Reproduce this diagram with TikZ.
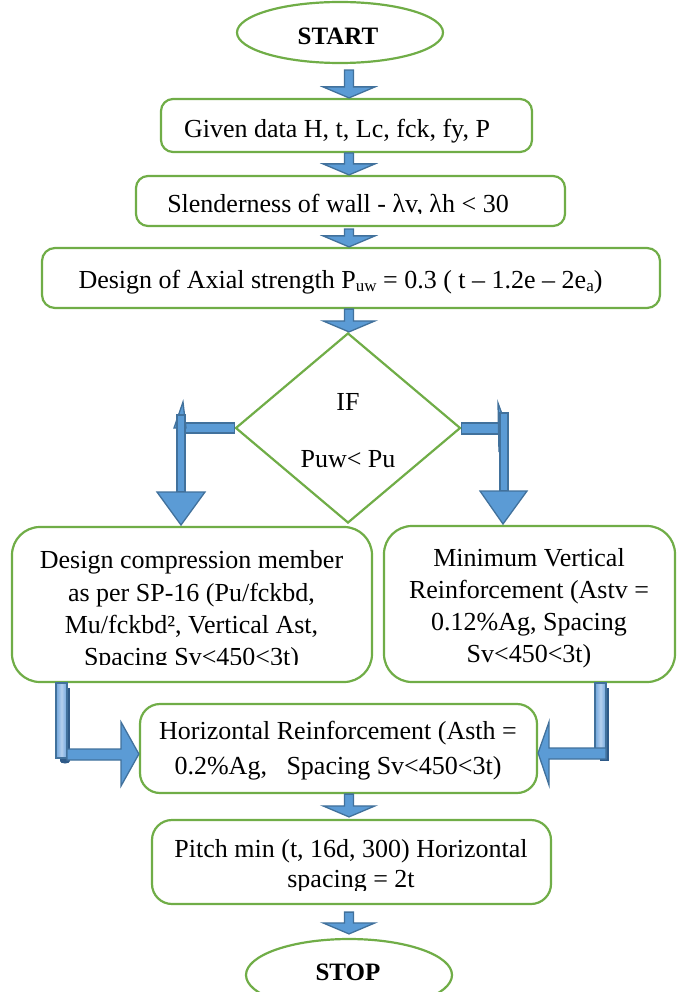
\documentclass[tikz,border=0pt]{standalone}
\usepackage{fontspec}
\setmainfont{Liberation Serif}
\usetikzlibrary{shapes.geometric,calc}

\definecolor{boxgreen}{HTML}{70AD47}
\definecolor{arrowfill}{HTML}{5B9BD5}
\definecolor{arrowedge}{HTML}{41719C}
\definecolor{barlight}{HTML}{B4D0EE}
\definecolor{barmid}{HTML}{6FA5DC}
\definecolor{bardark}{HTML}{2E5A88}

\tikzset{
  flowbox/.style={draw=boxgreen, line width=2.2pt, rounded corners=#1, fill=white,
    inner sep=0pt, rectangle},
  terminal/.style={draw=boxgreen, line width=2.2pt, ellipse, fill=white, inner sep=0pt},
  decision/.style={draw=boxgreen, line width=2.2pt, diamond, fill=white, inner sep=0pt},
  blockarrow/.style={draw=arrowedge, fill=arrowfill, line width=1.3pt, line join=miter},
  txt/.style={font=\fontsize{26}{30}\selectfont, anchor=base, inner sep=0pt},
  boldtxt/.style={font=\fontsize{25}{30}\selectfont\bfseries, anchor=base, inner sep=0pt},
}

% lowered small subscript letters
\newcommand\lowsub[1]{\raisebox{-3pt}{\fontsize{17}{17}\selectfont #1}}

% downward block arrow: #1 top of the shaft, #2 tip
\newcommand\blockdown[2]{%
  \path[blockarrow] let \p1=#1, \p2=#2 in
    (\x1-4.5pt,\y1) -- (\x1+4.5pt,\y1) -- (\x1+4.5pt,\y2+11pt) -- (\x1+26pt,\y2+11pt)
    -- (\x1,\y2) -- (\x1-26pt,\y2+11pt) -- (\x1-4.5pt,\y2+11pt) -- cycle;}

\begin{document}
\begin{tikzpicture}[x=1pt,y=-1pt]
\useasboundingbox (0,0) rectangle (680,992);
\clip (0,0) rectangle (680,992);

% ---- shapes ----
\node[terminal, minimum width=206pt, minimum height=61pt] (start) at (340,32.5) {};
\node[flowbox=12pt, minimum width=371pt, minimum height=53pt] (given) at (346.5,125.5) {};
\node[flowbox=12pt, minimum width=429pt, minimum height=50pt] (slender) at (350.5,201) {};
\node[flowbox=13pt, minimum width=618pt, minimum height=60pt] (axial) at (351,278) {};
\node[decision, minimum width=225pt, minimum height=190pt] (dia) at (348,428) {};
\node[flowbox=28pt, minimum width=360pt, minimum height=155pt] (comp) at (192,604.5) {};
\node[flowbox=28pt, minimum width=291pt, minimum height=156pt] (minv) at (529.5,604) {};
\node[flowbox=20pt, minimum width=397pt, minimum height=89pt] (horiz) at (338.5,748.5) {};
\node[flowbox=20pt, minimum width=399pt, minimum height=84pt] (pitch) at (351.5,862) {};
\node[terminal, minimum width=206pt, minimum height=72pt] (stop) at (349,975) {};

% ---- texts ----
\node[boldtxt] (starttxt) at (338,45) {START};
\node[txt] (giventxt) at (337,138) {Given data H, t, Lc, fck, fy, P};
\begin{scope}
  \clip (0,0) rectangle (680,214);
  \node[txt] (slendertxt) at (338,213) {Slenderness of wall - λv, λh < 30};
\end{scope}
\node[txt] (axialtxt) at (340.5,288) {Design of Axial strength P\lowsub{uw} = 0.3 ( t – 1.2e – 2e\lowsub{a})};
\node[txt] (iftxt) at (348,410) {IF};
\node[txt] (condtxt) at (348,467) {Puw< Pu};

\node[txt] (comp1) at (191.5,568) {Design compression member};
\node[txt] (comp2) at (191.5,601) {as per SP-16 (Pu/fckbd,};
\node[txt] (comp3) at (191.5,633) {Mu/fckbd², Vertical Ast,};
\begin{scope}
  \clip (0,0) rectangle (680,664);
  \node[txt] (comp4) at (191.5,665) {Spacing Sv<450<3t)};
\end{scope}

\node[txt] (minv1) at (529,566) {Minimum Vertical};
\node[txt] (minv2) at (529,598) {Reinforcement (Astv =};
\node[txt] (minv3) at (529,630) {0.12\%Ag, Spacing};
\begin{scope}
  \clip (0,0) rectangle (680,667);
  \node[txt] (minv4) at (529,662) {Sv<450<3t)};
\end{scope}

\node[txt] (horiz1) at (338,739) {Horizontal Reinforcement (Asth =};
\node[txt] (horiz2) at (338,774) {0.2\%Ag,\ \ \ Spacing Sv<450<3t)};

\node[txt] (pitch1) at (351,857) {Pitch min (t, 16d, 300) Horizontal};
\begin{scope}
  \clip (0,0) rectangle (680,890);
  \node[txt] (pitch2) at (351,887) {spacing = 2t};
\end{scope}

\node[boldtxt] (stoptxt) at (348,980) {STOP};

% ---- straight block arrows down the main column ----
\coordinate (col) at (349,0);
\blockdown{($(col |- start.south)+(0,6)$)}{(col |- given.north)}
\blockdown{(col |- given.south)}{(col |- slender.north)}
\blockdown{($(col |- slender.south)+(0,2)$)}{(col |- axial.north)}
\blockdown{(col |- axial.south)}{(col |- dia.north)}
\blockdown{(col |- horiz.south)}{($(col |- pitch.north)+(0,-2)$)}
\blockdown{($(col |- pitch.south)+(0,7)$)}{($(col |- stop.north)+(0,-4)$)}

% ---- branch arrows out of the decision ----
% left branch
\path[blockarrow] ($(dia.west)+(0,-5)$) -- (183,423) -- (183,433) -- ($(dia.west)+(0,5)$) -- cycle;
\path[blockarrow] (183,402) -- (186,428) -- (174,428) -- cycle;
\path[blockarrow] (177,415) rectangle (185,492);
\path[blockarrow] (157,492) -- (205,492) -- (181,525) -- cycle;
% right branch
\path[blockarrow] ($(dia.east)+(0,-5)$) -- (500,423) -- (500,434) -- ($(dia.east)+(0,6)$) -- cycle;
\path[blockarrow] (498,403) -- (502,414) -- (499,452) -- cycle;
\path[blockarrow] (500,413) rectangle (508,491);
\path[blockarrow] (480,491) -- (527,491) -- (503,524) -- cycle;

% ---- elbow arrows into the horizontal reinforcement box ----
% left
\fill[bardark] (60,688) rectangle (70,761);
\fill[bardark] (65,761) ellipse (5pt and 2.5pt);
\shade[left color=barmid, right color=barmid, middle color=barlight] (56,683) rectangle (67,758);
\draw[arrowedge, line width=1.3pt] (56,683) rectangle (67,758);
\path[blockarrow] (67,749) -- (121,749) -- (121,722) -- (horiz.west |- 0,754) -- (121,786) -- (121,760) -- (67,760) -- cycle;
% right
\fill[bardark] (600,688) rectangle (609,761);
\shade[left color=barmid, right color=barmid, middle color=barlight] (595,683) rectangle (606,758);
\draw[arrowedge, line width=1.3pt] (595,683) rectangle (606,758);
\path[blockarrow] (606,748) -- (549,748) -- (549,722) -- (horiz.east |- 0,753) -- (549,785) -- (549,759) -- (606,759) -- cycle;
\end{tikzpicture}
\end{document}
